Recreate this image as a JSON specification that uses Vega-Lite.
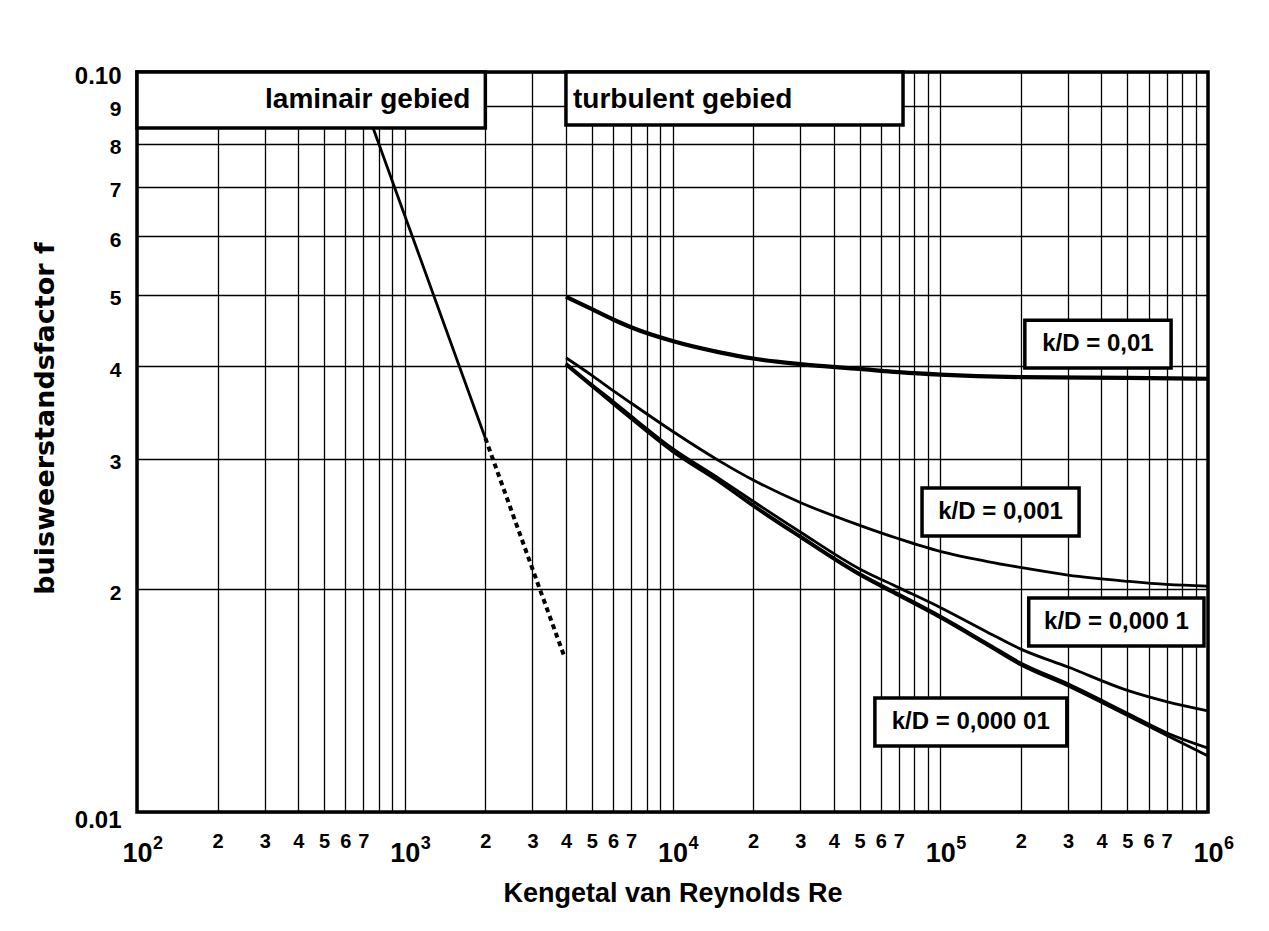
{
  "$schema": "https://vega.github.io/schema/vega-lite/v6.json",
  "autosize": "none",
  "width": 1071,
  "height": 740,
  "padding": {"left": 137, "top": 72, "right": 61, "bottom": 119},
  "background": "white",
  "config": {
    "view": {"stroke": "black", "strokeWidth": 3.5},
    "font": "Liberation Sans"
  },
  "datasets": {
    "curves": [
      {"s": "lam", "Re": 640, "f": 0.1},
      {"s": "lam", "Re": 1000, "f": 0.064},
      {"s": "lam", "Re": 2000, "f": 0.032},
      {"s": "dot", "Re": 2000, "f": 0.032},
      {"s": "dot", "Re": 3000, "f": 0.0213},
      {"s": "dot", "Re": 3950, "f": 0.0162},
      {"s": "k01", "Re": 4000, "f": 0.0497},
      {"s": "k01", "Re": 5000, "f": 0.0478},
      {"s": "k01", "Re": 6000, "f": 0.0463},
      {"s": "k01", "Re": 7000, "f": 0.0452},
      {"s": "k01", "Re": 10000, "f": 0.0433},
      {"s": "k01", "Re": 15000, "f": 0.0418},
      {"s": "k01", "Re": 20000, "f": 0.0410},
      {"s": "k01", "Re": 30000, "f": 0.0403},
      {"s": "k01", "Re": 50000, "f": 0.0397},
      {"s": "k01", "Re": 70000, "f": 0.0393},
      {"s": "k01", "Re": 100000, "f": 0.0390},
      {"s": "k01", "Re": 200000, "f": 0.0387},
      {"s": "k01", "Re": 500000, "f": 0.0386},
      {"s": "k01", "Re": 1000000, "f": 0.0385},
      {"s": "k001", "Re": 4000, "f": 0.0411},
      {"s": "k001", "Re": 5000, "f": 0.0389},
      {"s": "k001", "Re": 6000, "f": 0.0371},
      {"s": "k001", "Re": 7000, "f": 0.0357},
      {"s": "k001", "Re": 10000, "f": 0.0327},
      {"s": "k001", "Re": 15000, "f": 0.0298},
      {"s": "k001", "Re": 20000, "f": 0.0281},
      {"s": "k001", "Re": 30000, "f": 0.0262},
      {"s": "k001", "Re": 50000, "f": 0.0244},
      {"s": "k001", "Re": 70000, "f": 0.0234},
      {"s": "k001", "Re": 100000, "f": 0.0225},
      {"s": "k001", "Re": 150000, "f": 0.0218},
      {"s": "k001", "Re": 200000, "f": 0.0214},
      {"s": "k001", "Re": 300000, "f": 0.0209},
      {"s": "k001", "Re": 500000, "f": 0.0205},
      {"s": "k001", "Re": 700000, "f": 0.0203},
      {"s": "k001", "Re": 1000000, "f": 0.0202},
      {"s": "k0001", "Re": 4000, "f": 0.0404},
      {"s": "k0001", "Re": 5000, "f": 0.0378},
      {"s": "k0001", "Re": 6000, "f": 0.0359},
      {"s": "k0001", "Re": 7000, "f": 0.0343},
      {"s": "k0001", "Re": 10000, "f": 0.0310},
      {"s": "k0001", "Re": 15000, "f": 0.0282},
      {"s": "k0001", "Re": 20000, "f": 0.0263},
      {"s": "k0001", "Re": 30000, "f": 0.0239},
      {"s": "k0001", "Re": 50000, "f": 0.0213},
      {"s": "k0001", "Re": 70000, "f": 0.0201},
      {"s": "k0001", "Re": 100000, "f": 0.0189},
      {"s": "k0001", "Re": 150000, "f": 0.0175},
      {"s": "k0001", "Re": 200000, "f": 0.0166},
      {"s": "k0001", "Re": 300000, "f": 0.0157},
      {"s": "k0001", "Re": 500000, "f": 0.0146},
      {"s": "k0001", "Re": 700000, "f": 0.0141},
      {"s": "k0001", "Re": 1000000, "f": 0.0137},
      {"s": "k00001", "Re": 4000, "f": 0.0403},
      {"s": "k00001", "Re": 5000, "f": 0.0377},
      {"s": "k00001", "Re": 6000, "f": 0.0357},
      {"s": "k00001", "Re": 7000, "f": 0.0341},
      {"s": "k00001", "Re": 10000, "f": 0.0308},
      {"s": "k00001", "Re": 15000, "f": 0.0280},
      {"s": "k00001", "Re": 20000, "f": 0.0260},
      {"s": "k00001", "Re": 30000, "f": 0.0236},
      {"s": "k00001", "Re": 50000, "f": 0.0210},
      {"s": "k00001", "Re": 70000, "f": 0.0197},
      {"s": "k00001", "Re": 100000, "f": 0.0184},
      {"s": "k00001", "Re": 150000, "f": 0.0169},
      {"s": "k00001", "Re": 200000, "f": 0.0159},
      {"s": "k00001", "Re": 300000, "f": 0.0149},
      {"s": "k00001", "Re": 500000, "f": 0.0136},
      {"s": "k00001", "Re": 700000, "f": 0.0128},
      {"s": "k00001", "Re": 1000000, "f": 0.0122},
      {"s": "glad", "Re": 4000, "f": 0.0402},
      {"s": "glad", "Re": 5000, "f": 0.0376},
      {"s": "glad", "Re": 6000, "f": 0.0356},
      {"s": "glad", "Re": 7000, "f": 0.0340},
      {"s": "glad", "Re": 10000, "f": 0.0307},
      {"s": "glad", "Re": 15000, "f": 0.0279},
      {"s": "glad", "Re": 20000, "f": 0.0259},
      {"s": "glad", "Re": 30000, "f": 0.0235},
      {"s": "glad", "Re": 50000, "f": 0.0209},
      {"s": "glad", "Re": 70000, "f": 0.0196},
      {"s": "glad", "Re": 100000, "f": 0.0183},
      {"s": "glad", "Re": 150000, "f": 0.0168},
      {"s": "glad", "Re": 200000, "f": 0.0158},
      {"s": "glad", "Re": 300000, "f": 0.0148},
      {"s": "glad", "Re": 500000, "f": 0.0135},
      {"s": "glad", "Re": 700000, "f": 0.0127},
      {"s": "glad", "Re": 1000000, "f": 0.0119}
    ],
    "walls": [{"Re": 2000}, {"Re": 4000}],
    "boxes": [
      {"kind": "right", "label": "laminair gebied", "x1": 100, "x2": 2000, "y1": 0.084, "y2": 0.1, "tx": 1760, "ty": 0.0917},
      {"kind": "left", "label": "turbulent gebied", "x1": 4000, "x2": 72600, "y1": 0.0848, "y2": 0.1, "tx": 4250, "ty": 0.0917},
      {"kind": "center", "label": "k/D = 0,01", "x1": 207000, "x2": 728000, "y1": 0.0398, "y2": 0.0462, "tx": 388000, "ty": 0.0429},
      {"kind": "center", "label": "k/D = 0,001", "x1": 85500, "x2": 330000, "y1": 0.0236, "y2": 0.0274, "tx": 168000, "ty": 0.02543},
      {"kind": "center", "label": "k/D = 0,000 1", "x1": 214000, "x2": 966000, "y1": 0.01676, "y2": 0.01946, "tx": 455000, "ty": 0.01806},
      {"kind": "center", "label": "k/D = 0,000 01", "x1": 57000, "x2": 297000, "y1": 0.01228, "y2": 0.01426, "tx": 130000, "ty": 0.01323}
    ],
    "exps": [
      {"Re": 100, "f": 0.01, "e": "2"},
      {"Re": 1000, "f": 0.01, "e": "3"},
      {"Re": 10000, "f": 0.01, "e": "4"},
      {"Re": 100000, "f": 0.01, "e": "5"},
      {"Re": 1000000, "f": 0.01, "e": "6"}
    ]
  },
  "encoding": {
    "x": {
      "field": "Re",
      "type": "quantitative",
      "scale": {"type": "log", "domain": [100, 1000000], "nice": false},
      "axis": {
        "values": [100, 200, 300, 400, 500, 600, 700, 800, 900, 1000, 2000, 3000, 4000, 5000, 6000, 7000, 8000, 9000, 10000, 20000, 30000, 40000, 50000, 60000, 70000, 80000, 90000, 100000, 200000, 300000, 400000, 500000, 600000, 700000, 800000, 900000, 1000000],
        "grid": true,
        "gridColor": "black",
        "gridWidth": 1.3,
        "gridOpacity": 1,
        "domain": false,
        "ticks": false,
        "labelOverlap": false,
        "labelFlush": false,
        "labelFont": "Liberation Sans",
        "labelFontWeight": "bold",
        "labelColor": "black",
        "labelBaseline": "top",
        "labelExpr": "abs(log(datum.value)/LN10 - round(log(datum.value)/LN10)) < 0.001 ? '10' : round(datum.value / pow(10, floor(log(datum.value)/LN10 + 0.000001))) >= 8 ? '' : '' + round(datum.value / pow(10, floor(log(datum.value)/LN10 + 0.000001)))",
        "labelFontSize": {"condition": {"test": "abs(log(datum.value)/LN10 - round(log(datum.value)/LN10)) < 0.001", "value": 27}, "value": 20},
        "labelPadding": {"condition": {"test": "abs(log(datum.value)/LN10 - round(log(datum.value)/LN10)) < 0.001", "value": 28}, "value": 19},
        "title": "Kengetal van Reynolds Re",
        "titleFont": "Liberation Sans",
        "titleFontWeight": "bold",
        "titleFontSize": 27,
        "titleColor": "black",
        "titlePadding": 14
      }
    },
    "y": {
      "field": "f",
      "type": "quantitative",
      "scale": {"type": "log", "domain": [0.01, 0.1], "nice": false},
      "axis": {
        "values": [0.01, 0.02, 0.03, 0.04, 0.05, 0.06, 0.07, 0.08, 0.09, 0.1],
        "grid": true,
        "gridColor": "black",
        "gridWidth": 1.3,
        "gridOpacity": 1,
        "domain": false,
        "ticks": false,
        "labelOverlap": false,
        "labelFlush": false,
        "labelFont": "Liberation Sans",
        "labelFontWeight": "bold",
        "labelColor": "black",
        "labelPadding": 16,
        "labelBaseline": "middle",
        "labelOffset": {"condition": {"test": "datum.value < 0.0105", "value": 8}, "value": 4},
        "labelExpr": "datum.value > 0.0995 ? '0.10' : datum.value < 0.0105 ? '0.01' : '' + round(datum.value * 100)",
        "labelFontSize": {"condition": {"test": "datum.value > 0.0995 || datum.value < 0.0105", "value": 24}, "value": 21},
        "title": "buisweerstandsfactor f",
        "titleFont": "DejaVu Sans",
        "titleFontWeight": "bold",
        "titleFontSize": 27,
        "titleColor": "black",
        "titlePadding": 15,
        "titleY": 346
      }
    }
  },
  "layer": [
    {
      "data": {"name": "walls"},
      "mark": {"type": "rule", "color": "black", "strokeWidth": 4},
      "encoding": {"x": {"field": "Re", "type": "quantitative"}}
    },
    {
      "data": {"name": "curves"},
      "transform": [{"filter": "datum.s != 'k01' && datum.s != 'dot'"}],
      "mark": {"type": "line", "color": "black", "strokeWidth": 2.8, "interpolate": "monotone"},
      "encoding": {"detail": {"field": "s", "type": "nominal"}}
    },
    {
      "data": {"name": "curves"},
      "transform": [{"filter": "datum.s == 'k01'"}],
      "mark": {"type": "line", "color": "black", "strokeWidth": 4.2, "interpolate": "monotone"},
      "encoding": {"detail": {"field": "s", "type": "nominal"}}
    },
    {
      "data": {"name": "curves"},
      "transform": [{"filter": "datum.s == 'dot'"}],
      "mark": {"type": "line", "color": "black", "strokeWidth": 4, "strokeDash": [5, 4]},
      "encoding": {"detail": {"field": "s", "type": "nominal"}}
    },
    {
      "data": {"name": "boxes"},
      "mark": {"type": "rect", "fill": "white", "stroke": "black", "strokeWidth": 3.5},
      "encoding": {
        "x": {"field": "x1", "type": "quantitative"},
        "x2": {"field": "x2"},
        "y": {"field": "y1", "type": "quantitative"},
        "y2": {"field": "y2"}
      }
    },
    {
      "data": {"name": "boxes"},
      "transform": [{"filter": "datum.kind == 'right'"}],
      "mark": {"type": "text", "font": "Liberation Sans", "fontWeight": "bold", "fontSize": 28, "align": "right", "baseline": "middle", "color": "black"},
      "encoding": {
        "x": {"field": "tx", "type": "quantitative"},
        "y": {"field": "ty", "type": "quantitative"},
        "text": {"field": "label"}
      }
    },
    {
      "data": {"name": "boxes"},
      "transform": [{"filter": "datum.kind == 'left'"}],
      "mark": {"type": "text", "font": "Liberation Sans", "fontWeight": "bold", "fontSize": 28, "align": "left", "baseline": "middle", "color": "black"},
      "encoding": {
        "x": {"field": "tx", "type": "quantitative"},
        "y": {"field": "ty", "type": "quantitative"},
        "text": {"field": "label"}
      }
    },
    {
      "data": {"name": "boxes"},
      "transform": [{"filter": "datum.kind == 'center'"}],
      "mark": {"type": "text", "font": "Liberation Sans", "fontWeight": "bold", "fontSize": 24, "align": "center", "baseline": "middle", "color": "black"},
      "encoding": {
        "x": {"field": "tx", "type": "quantitative"},
        "y": {"field": "ty", "type": "quantitative"},
        "text": {"field": "label"}
      }
    },
    {
      "data": {"name": "exps"},
      "mark": {"type": "text", "font": "Liberation Sans", "fontWeight": "bold", "fontSize": 18, "align": "left", "baseline": "top", "dx": 16, "dy": 23, "color": "black"},
      "encoding": {
        "x": {"field": "Re", "type": "quantitative"},
        "y": {"field": "f", "type": "quantitative"},
        "text": {"field": "e"}
      }
    }
  ]
}
